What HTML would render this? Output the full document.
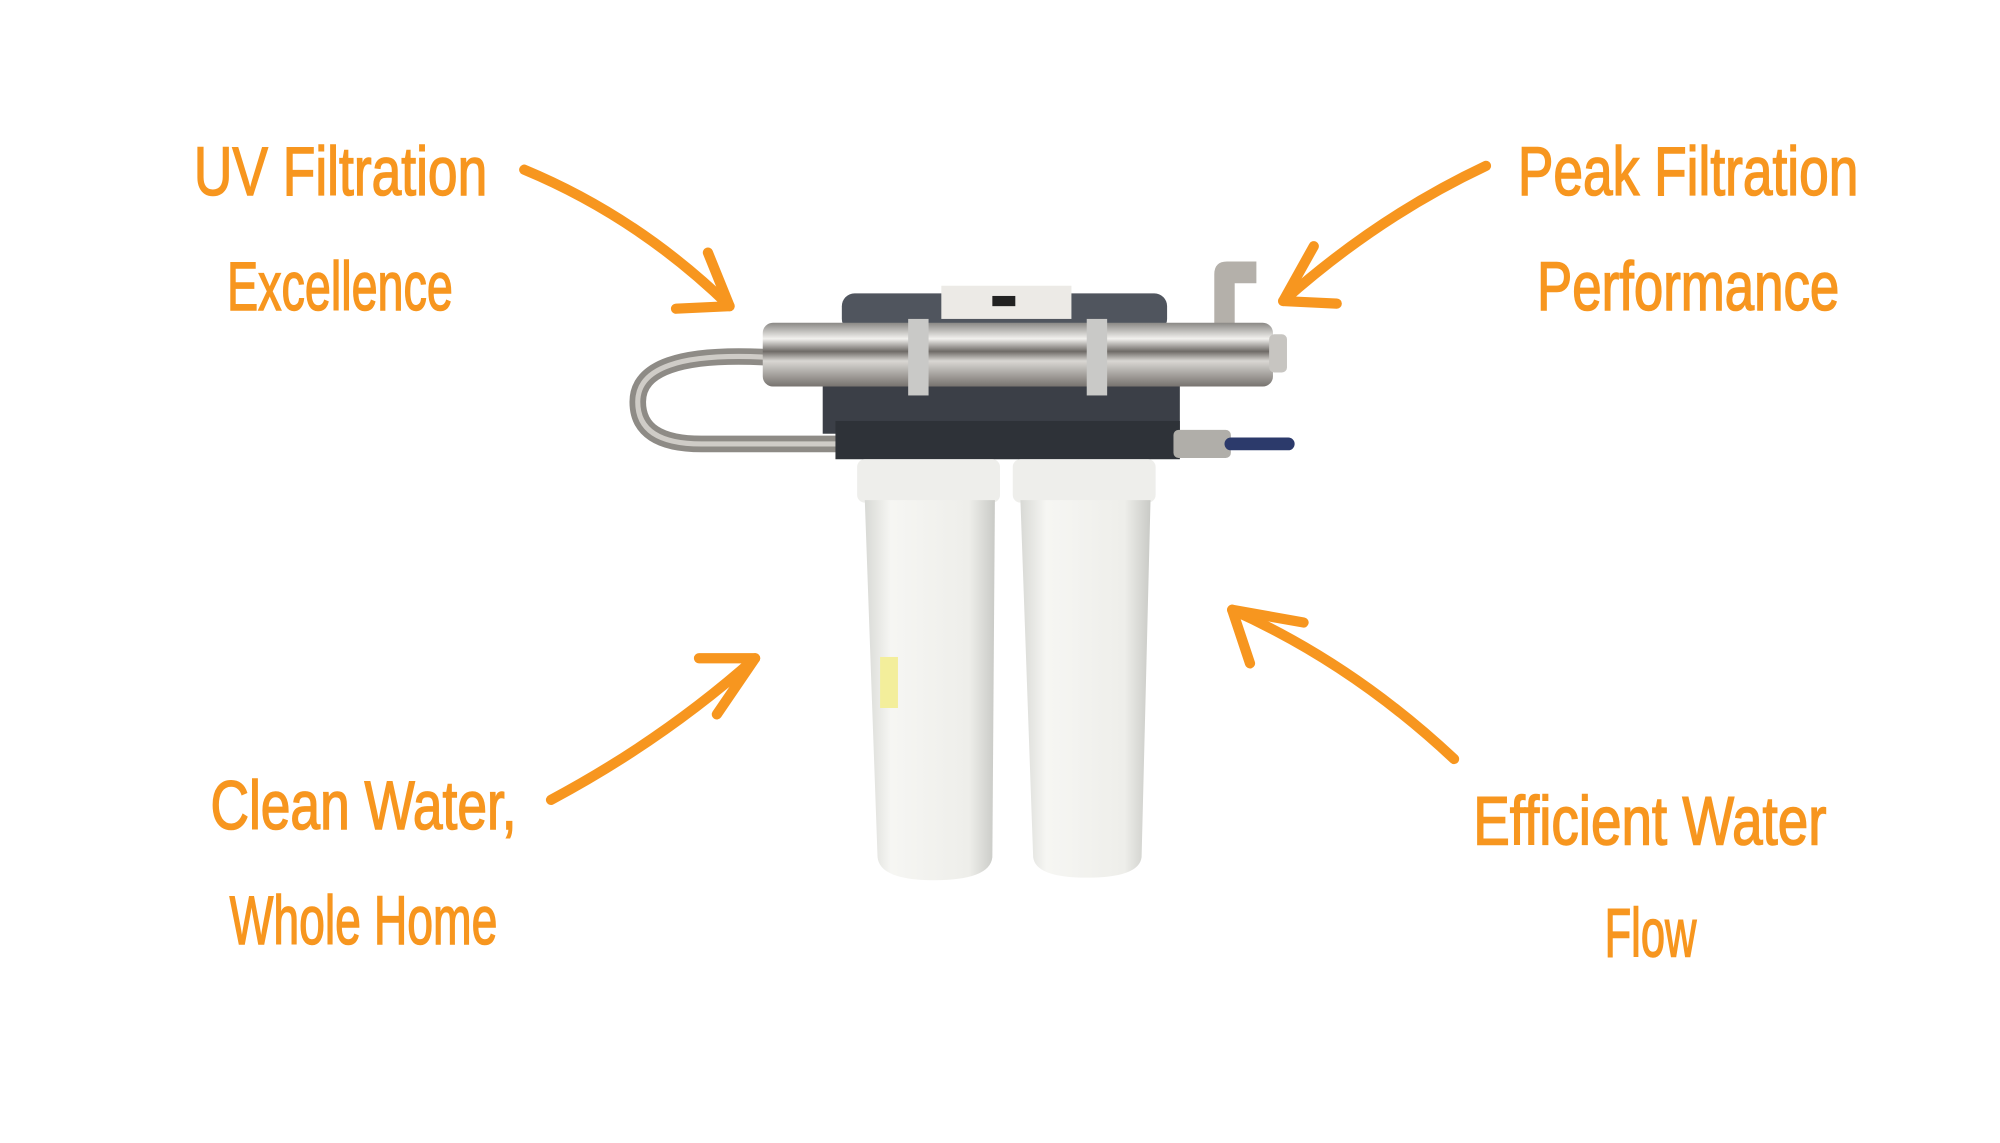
<!DOCTYPE html>
<html><head><meta charset="utf-8"><style>
html,body{margin:0;padding:0;background:#fff;}
svg{display:block}
.t{font-family:"Liberation Sans Narrow","Liberation Sans",sans-serif;fill:#F7961F;stroke:#F7961F;stroke-width:1.2;font-size:54px;}
.a{fill:none;stroke:#F7961F;stroke-width:8;stroke-linecap:round;stroke-linejoin:round}
</style></head><body>
<svg width="2000" height="1143" viewBox="0 0 1568 896" preserveAspectRatio="none" xmlns="http://www.w3.org/2000/svg">
<defs>
<linearGradient id="steel" x1="0" y1="0" x2="0" y2="1">
<stop offset="0" stop-color="#8a8885"/><stop offset="0.25" stop-color="#f2f1ee"/><stop offset="0.45" stop-color="#6e6a66"/><stop offset="0.6" stop-color="#d9d7d3"/><stop offset="1" stop-color="#77736f"/></linearGradient>
<linearGradient id="wh" x1="0" y1="0" x2="1" y2="0">
<stop offset="0" stop-color="#d8d9d5"/><stop offset="0.2" stop-color="#f6f6f3"/><stop offset="0.8" stop-color="#eeeeea"/><stop offset="1" stop-color="#c9cac6"/></linearGradient>
</defs>
<rect width="1568" height="896" fill="#fff"/>
<text class="t" x="152" y="153" textLength="230" lengthAdjust="spacingAndGlyphs">UV Filtration</text>
<text class="t" x="178" y="243" textLength="177" lengthAdjust="spacingAndGlyphs">Excellence</text>
<text class="t" x="1190" y="153" textLength="267" lengthAdjust="spacingAndGlyphs">Peak Filtration</text>
<text class="t" x="1205" y="243" textLength="237" lengthAdjust="spacingAndGlyphs">Performance</text>
<text class="t" x="165" y="650" textLength="240" lengthAdjust="spacingAndGlyphs">Clean Water,</text>
<text class="t" x="180" y="740" textLength="210" lengthAdjust="spacingAndGlyphs">Whole Home</text>
<text class="t" x="1155" y="662" textLength="277" lengthAdjust="spacingAndGlyphs">Efficient Water</text>
<text class="t" x="1258" y="750" textLength="72" lengthAdjust="spacingAndGlyphs">Flow</text>

<path class="a" d="M411 133 Q500 170 572 240"/><path class="a" d="M530 242 L572 240 L555 198"/>
<path class="a" d="M1165 130 Q1080 170 1006 236"/><path class="a" d="M1048 238 L1006 236 L1030 193"/>
<path class="a" d="M432 627 Q520 580 592 516"/><path class="a" d="M548 516 L592 516 L562 560"/>
<path class="a" d="M1140 595 Q1060 520 966 478"/><path class="a" d="M1022 488 L966 478 L980 520"/>

<rect x="660" y="230" width="255" height="30" rx="10" fill="#50555e"/>
<rect x="738" y="224" width="102" height="26" fill="#eceae6"/>
<rect x="778" y="232" width="18" height="8" fill="#222"/>
<path d="M952 255 L952 215 Q952 205 962 205 L985 205 L985 222 L968 222 L968 255 Z" fill="#b4b0aa"/>
<path d="M600 280 Q500 275 500 315 Q500 348 550 348 L656 348" fill="none" stroke="#8e8b86" stroke-width="13"/>
<path d="M600 280 Q500 275 500 315 Q500 348 550 348 L656 348" fill="none" stroke="#cfccc7" stroke-width="4"/>
<rect x="645" y="300" width="280" height="40" fill="#3b3f47"/>
<rect x="655" y="330" width="270" height="30" fill="#2e3238"/>
<rect x="598" y="253" width="400" height="50" rx="8" fill="url(#steel)"/>
<rect x="995" y="262" width="14" height="30" rx="4" fill="#c7c5c1"/>
<rect x="712" y="250" width="16" height="60" fill="#c9c9c7"/>
<rect x="852" y="250" width="16" height="60" fill="#c9c9c7"/>
<rect x="920" y="337" width="45" height="22" rx="4" fill="#b0aea9"/>
<rect x="960" y="343" width="55" height="10" rx="5" fill="#2c3a6b"/>
<rect x="672" y="360" width="112" height="34" rx="6" fill="#eeeeeb"/>
<rect x="794" y="360" width="112" height="34" rx="6" fill="#eeeeeb"/>
<path d="M678 392 L780 392 L778 672 Q776 690 732 690 Q690 690 688 672 Z" fill="url(#wh)"/>
<path d="M800 392 L902 392 L895 672 Q893 688 852 688 Q812 688 810 672 Z" fill="url(#wh)"/>
<rect x="690" y="515" width="14" height="40" fill="#f3ee9b"/>
</svg>
</body></html>
